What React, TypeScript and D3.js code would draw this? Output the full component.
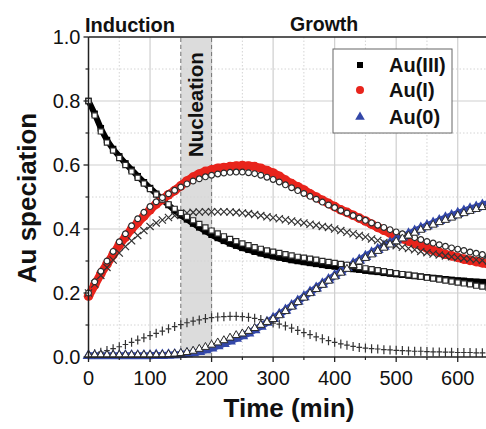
import React from "react";
import * as d3 from "d3";

const times = [0,10,20,30,40,50,60,70,80,90,100,110,120,130,140,150,160,170,180,190,200,210,220,230,240,250,260,270,280,290,300,310,320,330,340,350,360,370,380,390,400,410,420,430,440,450,460,470,480,490,500,510,520,530,540,550,560,570,580,590,600,610,620,630,640,650];

// measured data
const au3Data = [0.80,0.76,0.715,0.678,0.65,0.627,0.605,0.585,0.565,0.546,0.528,0.51,0.492,0.475,0.458,0.443,0.43,0.417,0.405,0.393,0.382,0.372,0.363,0.355,0.348,0.341,0.335,0.329,0.324,0.319,0.315,0.311,0.307,0.303,0.3,0.297,0.294,0.291,0.288,0.285,0.283,0.28,0.278,0.275,0.273,0.27,0.268,0.266,0.263,0.261,0.259,0.257,0.255,0.253,0.251,0.249,0.247,0.245,0.243,0.241,0.239,0.238,0.236,0.235,0.234,0.233];
const au1Data = [0.19,0.225,0.26,0.29,0.32,0.35,0.375,0.4,0.42,0.44,0.46,0.478,0.493,0.507,0.52,0.535,0.55,0.562,0.572,0.58,0.585,0.59,0.592,0.595,0.597,0.598,0.597,0.595,0.59,0.583,0.575,0.565,0.553,0.542,0.532,0.522,0.51,0.5,0.49,0.48,0.47,0.46,0.452,0.443,0.434,0.425,0.415,0.405,0.396,0.387,0.378,0.37,0.362,0.355,0.348,0.34,0.333,0.327,0.321,0.316,0.311,0.306,0.302,0.298,0.294,0.29];
const au0Data = [0.004,0.004,0.004,0.004,0.004,0.004,0.004,0.004,0.004,0.004,0.004,0.005,0.005,0.006,0.007,0.008,0.01,0.013,0.017,0.022,0.028,0.035,0.042,0.05,0.058,0.066,0.075,0.085,0.096,0.108,0.12,0.133,0.146,0.16,0.174,0.188,0.202,0.215,0.228,0.241,0.254,0.266,0.279,0.291,0.302,0.314,0.325,0.336,0.346,0.356,0.366,0.375,0.384,0.393,0.402,0.41,0.418,0.426,0.434,0.441,0.448,0.455,0.462,0.468,0.474,0.48];

// model fits
const au3Fit = [0.80,0.755,0.705,0.67,0.645,0.622,0.6,0.58,0.56,0.542,0.525,0.508,0.492,0.477,0.463,0.45,0.438,0.427,0.416,0.405,0.395,0.386,0.377,0.369,0.362,0.355,0.349,0.343,0.338,0.333,0.329,0.325,0.321,0.317,0.313,0.31,0.307,0.304,0.3,0.297,0.294,0.291,0.288,0.284,0.281,0.277,0.274,0.271,0.268,0.265,0.262,0.259,0.257,0.254,0.251,0.248,0.245,0.242,0.239,0.236,0.233,0.23,0.227,0.223,0.22,0.217];
const au1Fit = [0.2,0.235,0.268,0.3,0.33,0.36,0.385,0.41,0.432,0.452,0.47,0.485,0.498,0.51,0.521,0.531,0.541,0.55,0.557,0.563,0.568,0.572,0.575,0.577,0.578,0.578,0.576,0.573,0.568,0.562,0.555,0.547,0.538,0.529,0.52,0.511,0.502,0.493,0.484,0.475,0.467,0.458,0.45,0.442,0.434,0.427,0.419,0.412,0.405,0.398,0.391,0.385,0.379,0.373,0.367,0.361,0.356,0.351,0.346,0.341,0.337,0.333,0.328,0.324,0.32,0.316];
const au0Fit = [0.006,0.006,0.006,0.006,0.006,0.006,0.006,0.006,0.006,0.006,0.006,0.006,0.007,0.008,0.01,0.012,0.015,0.019,0.025,0.031,0.038,0.045,0.052,0.06,0.068,0.073,0.081,0.09,0.1,0.109,0.118,0.13,0.143,0.157,0.171,0.185,0.199,0.212,0.225,0.238,0.251,0.263,0.275,0.287,0.298,0.309,0.32,0.331,0.341,0.351,0.361,0.37,0.379,0.388,0.397,0.405,0.413,0.421,0.428,0.435,0.442,0.449,0.456,0.462,0.468,0.474];
const auSolFit = [0.2,0.228,0.255,0.28,0.303,0.325,0.345,0.363,0.38,0.395,0.408,0.419,0.428,0.436,0.442,0.447,0.45,0.452,0.453,0.454,0.454,0.454,0.454,0.453,0.452,0.45,0.448,0.445,0.442,0.438,0.435,0.432,0.429,0.425,0.422,0.419,0.415,0.412,0.408,0.405,0.4,0.395,0.39,0.385,0.38,0.375,0.369,0.364,0.358,0.353,0.348,0.343,0.339,0.335,0.33,0.326,0.322,0.319,0.316,0.313,0.31,0.308,0.306,0.304,0.302,0.3];
const nucleiFit = [0.005,0.01,0.015,0.02,0.026,0.032,0.039,0.046,0.053,0.06,0.067,0.074,0.081,0.088,0.095,0.101,0.107,0.112,0.116,0.12,0.123,0.125,0.126,0.127,0.127,0.126,0.124,0.121,0.117,0.112,0.106,0.103,0.097,0.09,0.083,0.076,0.07,0.063,0.057,0.051,0.046,0.041,0.037,0.033,0.03,0.028,0.026,0.025,0.023,0.022,0.021,0.02,0.019,0.018,0.018,0.017,0.016,0.016,0.015,0.015,0.014,0.014,0.014,0.013,0.013,0.013];

const xTicks = [0,100,200,300,400,500,600];
const yTicks = [0,0.2,0.4,0.6,0.8,1.0];
const legendLabels = ["Au(III)","Au(I)","Au(0)"];
const phaseLabels = ["Induction","Growth","Nucleation"];
const nucleationWindow = [150,200];

const W = 486, H = 429;
const FONT = "'Liberation Sans', Arial, Helvetica, sans-serif";
const RED = "#e8241c";
const BLUE = "#3347a8";

export default function App() {
  const x = d3.scaleLinear().domain([0, 650]).range([88.5, 488.5]);
  const y = d3.scaleLinear().domain([0, 1]).range([357, 37]);
  const pts = (vals: number[]) => times.map((t, i) => [x(t), y(vals[i])] as [number, number]);
  const line = d3.line().curve(d3.curveMonotoneX);
  const sq = (s: number) => d3.symbol().type(d3.symbolSquare).size(s * s)() as string;
  const circ = (r: number) => d3.symbol().type(d3.symbolCircle).size(Math.PI * r * r)() as string;
  const tri = (a: number) => d3.symbol().type(d3.symbolTriangle).size(a)() as string;

  const xMinor = d3.range(50, 650, 100);
  const yMinor = d3.range(0.1, 1.0, 0.2);

  return (
    <div style={{ position: "absolute", left: 0, top: 0 }}>
      <svg width={W} height={H} style={{ display: "block", background: "#fff" }} fontFamily={FONT}>
        {/* nucleation band */}
        <rect x={x(nucleationWindow[0])} y={y(1)} width={x(nucleationWindow[1]) - x(nucleationWindow[0])} height={y(0) - y(1)} fill="#dcdcdc" />
        {/* grid */}
        {xMinor.map((t) => (
          <line key={"xm" + t} x1={x(t)} x2={x(t)} y1={y(0)} y2={y(1)} stroke="#d4d4d4" strokeDasharray="1.5,2" />
        ))}
        {yMinor.map((v) => (
          <line key={"ym" + v} x1={x(0)} x2={W} y1={y(v)} y2={y(v)} stroke="#d4d4d4" strokeDasharray="1.5,2" />
        ))}
        {xTicks.slice(1).map((t) => (
          <line key={"xg" + t} x1={x(t)} x2={x(t)} y1={y(0)} y2={y(1)} stroke="#cfcfcf" strokeWidth={1.2} />
        ))}
        {yTicks.slice(1, -1).map((v) => (
          <line key={"yg" + v} x1={x(0)} x2={W} y1={y(v)} y2={y(v)} stroke="#cfcfcf" strokeWidth={1.2} />
        ))}
        {nucleationWindow.map((t) => (
          <line key={"nw" + t} x1={x(t)} x2={x(t)} y1={y(0)} y2={y(1)} stroke="#777" strokeDasharray="4,3" strokeWidth={1} />
        ))}

        {/* measured data */}
        <path d={line(pts(au3Data)) as string} fill="none" stroke="#000" strokeWidth={6} />
        {pts(au3Data).map((p, i) => (
          <path key={"d3" + i} d={sq(6.5)} transform={`translate(${p[0]},${p[1]})`} fill="#000" />
        ))}
        <path d={line(pts(au1Data)) as string} fill="none" stroke={RED} strokeWidth={8.5} />
        {pts(au1Data).map((p, i) => (
          <path key={"d1" + i} d={circ(4.8)} transform={`translate(${p[0]},${p[1]})`} fill={RED} />
        ))}
        <path d={line(pts(au0Data)) as string} fill="none" stroke={BLUE} strokeWidth={7} />
        {pts(au0Data).map((p, i) => (
          <path key={"d0" + i} d={tri(60)} transform={`translate(${p[0]},${p[1]})`} fill={BLUE} />
        ))}

        {/* model: Au(I) in solution (x markers) */}
        {pts(auSolFit).map((p, i) => (
          <path key={"xs" + i} d="M-3.6,-3.6L3.6,3.6M-3.6,3.6L3.6,-3.6" transform={`translate(${p[0]},${p[1]})`} stroke="#333" strokeWidth={1.2} fill="none" />
        ))}
        {/* model: nuclei (+ markers) */}
        {pts(nucleiFit).map((p, i) => (
          <path key={"pn" + i} d="M0,-4.5L0,4.5M-2.8,0L2.8,0" transform={`translate(${p[0]},${p[1]})`} stroke="#333" strokeWidth={1.2} fill="none" />
        ))}
        {/* model fits */}
        {pts(au3Fit).map((p, i) => (
          <path key={"f3" + i} d={sq(5.2)} transform={`translate(${p[0]},${p[1]})`} fill="#fff" stroke="#2a2a2a" strokeWidth={1.2} />
        ))}
        {pts(au1Fit).map((p, i) => (
          <path key={"f1" + i} d={circ(2.9)} transform={`translate(${p[0]},${p[1]})`} fill="#fff" stroke="#2a2a2a" strokeWidth={1.2} />
        ))}
        {pts(au0Fit).map((p, i) => (
          <path key={"f0" + i} d={tri(28)} transform={`translate(${p[0]},${p[1]})`} fill="#fff" stroke="#2a2a2a" strokeWidth={1} />
        ))}

        {/* axes */}
        <line x1={x(0)} x2={W} y1={y(1)} y2={y(1)} stroke="#222" strokeWidth={1.5} />
        <line x1={x(0)} x2={W} y1={y(0)} y2={y(0)} stroke="#222" strokeWidth={1.5} />
        <line x1={x(0)} x2={x(0)} y1={y(0)} y2={y(1)} stroke="#222" strokeWidth={1.5} />
        {yTicks.map((v) => (
          <g key={"yt" + v}>
            <line x1={x(0) - 5} x2={x(0)} y1={y(v)} y2={y(v)} stroke="#222" strokeWidth={1.3} />
            <text x={x(0) - 8} y={y(v)} dy="0.36em" textAnchor="end" fontSize={20} fill="#111">{v.toFixed(1)}</text>
          </g>
        ))}
        {yMinor.map((v) => (
          <line key={"ymt" + v} x1={x(0) - 3} x2={x(0)} y1={y(v)} y2={y(v)} stroke="#222" strokeWidth={1.2} />
        ))}
        {xTicks.map((t) => (
          <g key={"xt" + t}>
            <line x1={x(t)} x2={x(t)} y1={y(0)} y2={y(0) + 5} stroke="#222" strokeWidth={1.3} />
            <text x={x(t)} y={385} textAnchor="middle" fontSize={20} fill="#111">{t}</text>
          </g>
        ))}
        {xMinor.map((t) => (
          <line key={"xmt" + t} x1={x(t)} x2={x(t)} y1={y(0)} y2={y(0) + 3} stroke="#222" strokeWidth={1.2} />
        ))}

        {/* labels */}
        <text x={289} y={417} textAnchor="middle" fontSize={26} fontWeight="bold" fill="#111">Time (min)</text>
        <text transform={`translate(36,${(y(0) + y(1)) / 2 + 1}) rotate(-90)`} textAnchor="middle" fontSize={26} fontWeight="bold" fill="#111">Au speciation</text>
        <text x={85} y={32} fontSize={20} fontWeight="bold" fill="#111">{phaseLabels[0]}</text>
        <text x={290} y={31} fontSize={19.5} fontWeight="bold" fill="#111">{phaseLabels[1]}</text>
        <text transform={`translate(${(x(150) + x(200)) / 2 + 7},157) rotate(-90)`} fontSize={20.5} fontWeight="bold" fill="#111">{phaseLabels[2]}</text>

        {/* legend */}
        <rect x={333} y={49} width={119} height={84} fill="#fff" stroke="#666" strokeWidth={1} />
        <path d={sq(6)} transform="translate(360,65)" fill="#000" />
        <path d={circ(4)} transform="translate(360,90)" fill={RED} />
        <path d={tri(40)} transform="translate(360,117)" fill={BLUE} />
        {legendLabels.map((l, i) => (
          <text key={l} x={389} y={[65, 90, 117][i]} dy="0.36em" fontSize={20} fontWeight="bold" fill="#111">{l}</text>
        ))}
      </svg>
    </div>
  );
}
